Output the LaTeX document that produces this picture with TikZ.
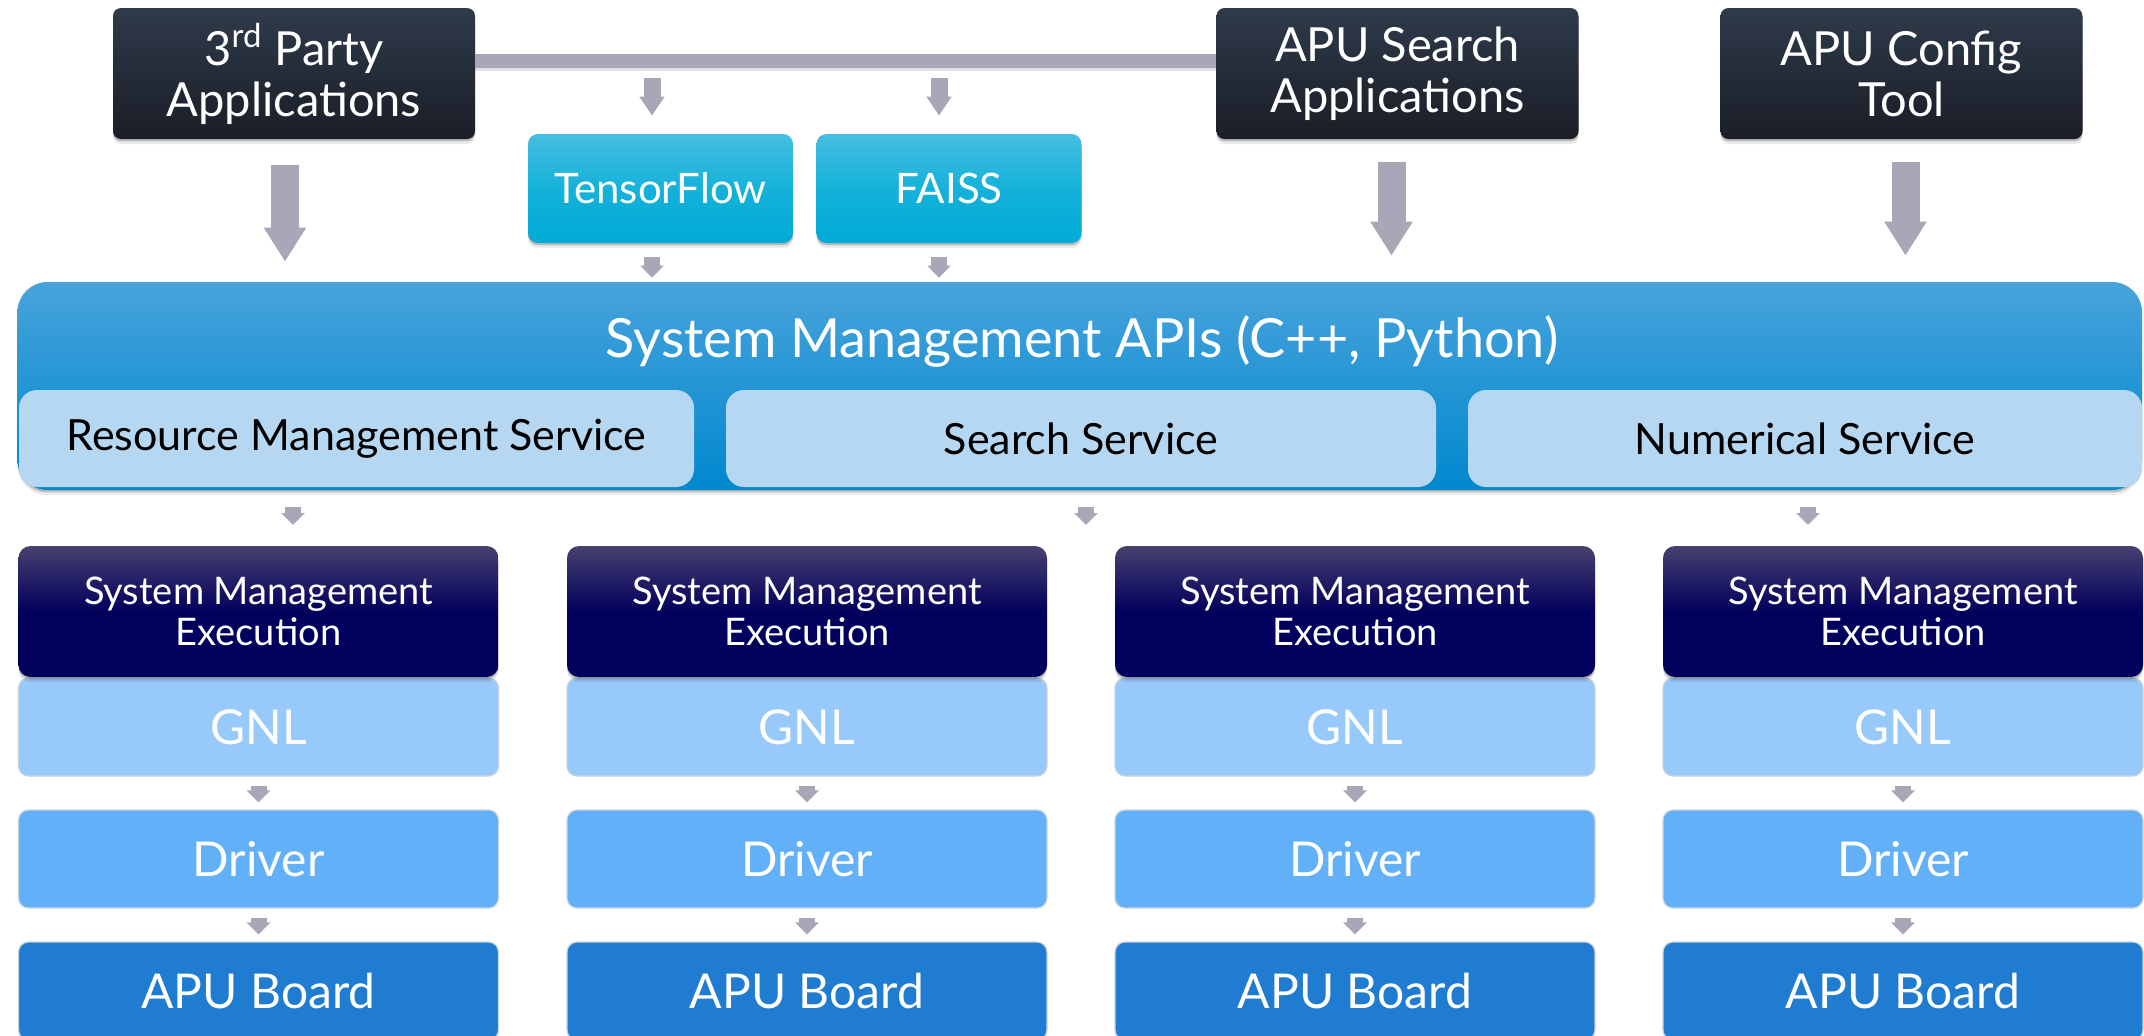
\documentclass[tikz,border=0pt]{standalone}
\usepackage{fontspec}
\setmainfont{Lato}
\usetikzlibrary{arrows.meta,shadows,calc}

\definecolor{darktop}{HTML}{2F3A4A}
\definecolor{darkbot}{HTML}{1A1E27}
\definecolor{arrowgray}{HTML}{A7A7B8}
\definecolor{cyantop}{HTML}{45BEE1}
\definecolor{cyanbot}{HTML}{00ABD6}
\definecolor{apitop}{HTML}{48A3DB}
\definecolor{apibot}{HTML}{0088CF}
\definecolor{servicefill}{HTML}{B5D7F1}
\definecolor{exectop}{HTML}{47416F}
\definecolor{execbot}{HTML}{02005D}
\definecolor{gnlfill}{HTML}{97C9FA}
\definecolor{driverfill}{HTML}{61B0F8}
\definecolor{boardfill}{HTML}{1F7CD0}
\definecolor{edgegray}{HTML}{C9D3DE}

% navy lower half, fading to a greyish violet at the top
\pgfdeclareverticalshading{execgrad}{100bp}{%
  color(0bp)=(execbot); color(25bp)=(execbot); color(50bp)=(execbot);
  color(75bp)=(exectop); color(100bp)=(exectop)}

\begin{document}
\begin{tikzpicture}[x=0.5pt,y=-0.5pt,
  softshadow/.style={
    drop shadow={shadow xshift=0pt,shadow yshift=-1.2pt,opacity=.20,fill=black},
    drop shadow={shadow xshift=0pt,shadow yshift=-2.6pt,opacity=.08,fill=black}},
  darkbox/.style={rounded corners=4pt, inner sep=0pt, align=center, text=white,
    top color=darktop, bottom color=darkbot, softshadow,
    minimum width=181pt, minimum height=65.5pt,
    font=\fontsize{23.5}{25.5}\selectfont},
  libbox/.style={rounded corners=5pt, inner sep=0pt, align=center, text=white,
    top color=cyantop, bottom color=cyanbot, middle color=cyanbot!92!white, softshadow,
    minimum width=132.5pt, minimum height=54.5pt,
    font=\fontsize{21}{25}\selectfont},
  apibox/.style={rounded corners=15pt, inner sep=0pt,
    top color=apitop, bottom color=apibot, softshadow,
    minimum width=1062.25pt, minimum height=104pt},
  servicebox/.style={rounded corners=9pt, inner sep=0pt, fill=servicefill,
    text=black, minimum height=48.5pt,
    font=\fontsize{21.5}{25}\selectfont},
  execbox/.style={rounded corners=6pt, inner sep=0pt, align=center, text=white,
    shading=execgrad, softshadow,
    minimum width=240pt, minimum height=65.5pt,
    font=\fontsize{19}{20.5}\selectfont},
  stackbox/.style={rounded corners=5pt, inner sep=0pt, text=white,
    draw=edgegray, line width=0.6pt,
    minimum width=240pt, minimum height=49pt,
    font=\fontsize{24}{28}\selectfont},
  feedbar/.style={draw=arrowgray, line width=7pt},
  bigarrow/.style={draw=arrowgray, line width=14pt,
    -{Triangle[width=20pt,length=17pt]}},
  midarrow/.style={draw=arrowgray, line width=8.5pt,
    -{Triangle[width=12pt,length=9.5pt]}},
  smallarrow/.style={draw=arrowgray, line width=8pt,
    -{Triangle[width=11.5pt,length=6pt]}}
]
\useasboundingbox (0,0) rectangle (2144,1035);
\fill[white] (0,0) rectangle (2144,1035);

% ---------- applications ----------
\node[darkbox] (p3)   at (294,73.5)    {3\textsuperscript{rd} Party\\Applications};
\node[darkbox] (srch) at (1397.5,73.5) {APU Search\\Applications};
\node[darkbox] (cfg)  at (1901.5,73.5) {APU Config\\Tool};

% ---------- frameworks ----------
\node[libbox] (tf)    at (660.5,188.5) {TensorFlow};
\node[libbox] (faiss) at (949,188.5)   {FAISS};

% ---------- system management API layer ----------
\node[apibox] (api) at (1079.75,386) {};
\node[text=white, font=\fontsize{27}{32}\selectfont] (title) at (1082,341)
  {System Management APIs (C++, Python)};
\node[servicebox, minimum width=337.5pt] (res) at (356.5,438.5) {Resource Management Service};
\node[servicebox, minimum width=355pt]   (ss)  at (1081,438.5)  {Search Service};
\node[servicebox, minimum width=337pt]   (num) at (1805,438.5)  {Numerical Service};

% ---------- per-board stacks ----------
\foreach \i/\cx in {1/258.5, 2/807, 3/1355, 4/1903} {
  \node[stackbox, fill=gnlfill]    (gnl\i) at (\cx,727)  {GNL};
  \node[stackbox, fill=driverfill] (drv\i) at (\cx,859)  {Driver};
  \node[stackbox, fill=boardfill]  (brd\i) at (\cx,991)  {APU Board};
  \node[execbox]                   (exe\i) at (\cx,611.5) {System Management\\Execution};
  \draw[smallarrow, shorten <=4.5pt, shorten >=3.5pt] (gnl\i.south) -- (drv\i.north);
  \draw[smallarrow, shorten <=4.5pt, shorten >=3.5pt] (drv\i.south) -- (brd\i.north);
}

% ---------- feed bar from the third-party apps to the search apps ----------
\coordinate (barL) at ([yshift=6.25pt]p3.east);
\coordinate (barR) at ([yshift=6.25pt]srch.west);
\draw[black, opacity=.12, line width=7pt] ([yshift=-1.5pt]barL) -- ([yshift=-1.5pt]barR);
\draw[feedbar] (barL) -- (barR);

\coordinate (tfin)    at ([xshift=-4.25pt]tf.north);
\coordinate (faissin) at ([xshift=-5pt]faiss.north);
\coordinate (j1) at (tfin |- barL);
\coordinate (j2) at (faissin |- barL);
\draw[midarrow, shorten <=8.5pt, shorten >=9pt] (j1) -- (tfin);
\draw[midarrow, shorten <=8.5pt, shorten >=9pt] (j2) -- (faissin);

\coordinate (tfout)    at ([xshift=-4.25pt]tf.south);
\coordinate (faissout) at ([xshift=-5pt]faiss.south);
\draw[smallarrow, shorten <=7pt, shorten >=2pt] (tfout) -- (tfout |- api.north);
\draw[smallarrow, shorten <=7pt, shorten >=2pt] (faissout) -- (faissout |- api.north);

% ---------- applications into the API layer ----------
\coordinate (p3out)   at ([xshift=-4.5pt]p3.south);
\coordinate (srchout) at ([xshift=-3pt]srch.south);
\coordinate (cfgout)  at ([xshift=2pt]cfg.south);
\draw[bigarrow, shorten <=13pt, shorten >=10pt] (p3out) -- (p3out |- api.north);
\draw[bigarrow, shorten <=11.5pt, shorten >=13pt] (srchout) -- (srchout |- api.north);
\draw[bigarrow, shorten <=11.5pt, shorten >=13pt] (cfgout) -- (cfgout |- api.north);

% ---------- API layer down to the execution row ----------
\coordinate (d1) at (293,546);
\coordinate (d2) at (1086,546);
\coordinate (d3) at (1808,546);
\draw[smallarrow, shorten <=10pt, shorten >=10.5pt] (res.south -| d1) -- (d1);
\draw[smallarrow, shorten <=10pt, shorten >=10.5pt] (ss.south -| d2) -- (d2);
\draw[smallarrow, shorten <=10pt, shorten >=10.5pt] (num.south -| d3) -- (d3);
\end{tikzpicture}
\end{document}
